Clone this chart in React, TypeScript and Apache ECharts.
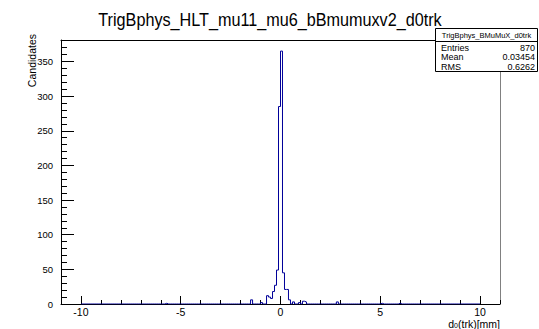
import React, { useEffect, useRef } from "react";
import * as echarts from "echarts";

const TITLE = "TrigBphys_HLT_mu11_mu6_bBmumuxv2_d0trk";
const STATS_NAME = "TrigBphys_BMuMuX_d0trk";
const STATS_LABELS = ["Entries", "Mean", "RMS"];
const STATS_VALUES = ["870", "0.03454", "0.6262"];
const Y_TITLE = "Candidates";

const X_TICKS = [-10, -5, 0, 5, 10];
const Y_TICKS = [0, 50, 100, 150, 200, 250, 300, 350];

// histogram binning: 200 bins of 0.1 from -10 to 10
const BIN_LOW = -10;
const BIN_HIGH = 10;
const N_BINS = 200;

// non-empty bins: lower edge and content
const FILLED_LOW_EDGES = [
  -5.8, -1.5, -1.0, -0.7, -0.6, -0.5, -0.4, -0.3, -0.2, -0.1, 0.0,
  0.1, 0.2, 0.3, 0.4, 0.6, 0.9, 1.1, 1.2, 2.8, 5.0, 5.9,
];
const FILLED_COUNTS = [
  1, 6, 2, 12, 10, 8, 18, 27, 49, 285, 365,
  45, 21, 21, 6, 3, 2, 4, 3, 3, 1, 1,
];

const FONT = "'Liberation Sans', Arial, Helvetica, sans-serif";
const HIST_COLOR = "#000099";

export default function App() {
  const ref = useRef<HTMLDivElement>(null);

  useEffect(() => {
    if (!ref.current) return;
    const chart = echarts.init(ref.current, null, { renderer: "svg" });

    const width = (BIN_HIGH - BIN_LOW) / N_BINS;
    const counts = new Array(N_BINS).fill(0);
    FILLED_LOW_EDGES.forEach((lo, k) => {
      const idx = Math.round((lo - BIN_LOW) / width);
      if (idx >= 0 && idx < N_BINS) counts[idx] = FILLED_COUNTS[k];
    });
    const stepData: number[][] = [];
    for (let i = 0; i < N_BINS; i++) {
      stepData.push([Math.round((BIN_LOW + i * width) * 1000) / 1000, counts[i]]);
    }
    stepData.push([BIN_HIGH, 0]);

    const txt = (
      text: string,
      x: number,
      y: number,
      fontSize: number,
      align: string,
      vAlign: string,
      extra: any = {}
    ) => ({
      type: "text",
      x,
      y,
      ...extra,
      style: {
        text,
        fontSize,
        fontFamily: FONT,
        fill: "#000",
        align,
        verticalAlign: vAlign,
        textAlign: align,
        textVerticalAlign: vAlign,
      },
    });

    const statsGraphics: any[] = [
      {
        type: "rect",
        shape: { x: 435.5, y: 28.5, width: 102, height: 43 },
        style: { fill: "#fff", stroke: "#000", lineWidth: 1 },
        z: 100,
      },
      {
        type: "line",
        shape: { x1: 435.5, y1: 41.5, x2: 537.5, y2: 41.5 },
        style: { stroke: "#000", lineWidth: 1 },
        z: 101,
      },
      txt(STATS_NAME, 486.5, 35, 7.5, "center", "middle", { z: 101 }),
    ];
    STATS_LABELS.forEach((lab, i) => {
      const y = 47.5 + i * 9.5;
      statsGraphics.push(txt(lab, 441, y, 9, "left", "middle", { z: 101 }));
      statsGraphics.push(txt(STATS_VALUES[i], 535, y, 9, "right", "middle", { z: 101 }));
    });

    const hiddenLine = { show: false, onZero: false };
    const option: any = {
      animation: false,
      backgroundColor: "#fff",
      grid: {
        left: 61,
        right: 39,
        top: 40,
        bottom: 25,
        show: false,
        containLabel: false,
        outerBoundsMode: "none",
      },
      xAxis: [
        {
          type: "value",
          min: -11,
          max: 11,
          position: "bottom",
          axisLine: { show: true, onZero: false, lineStyle: { color: "#000", width: 1 } },
          axisTick: {
            show: true,
            inside: true,
            length: 8,
            customValues: X_TICKS,
            lineStyle: { color: "#000", width: 1 },
          },
          axisLabel: {
            show: true,
            customValues: X_TICKS,
            fontSize: 10.5,
            fontFamily: FONT,
            color: "#000",
            margin: 2,
          },
          splitLine: { show: false },
        },
        {
          type: "value",
          min: -11,
          max: 11,
          interval: 1,
          position: "bottom",
          axisLine: hiddenLine,
          axisTick: { show: true, inside: true, length: 4, lineStyle: { color: "#000", width: 1 } },
          axisLabel: { show: false },
          splitLine: { show: false },
        },
        {
          type: "value",
          min: -11,
          max: 11,
          position: "top",
          axisLine: { show: true, onZero: false, lineStyle: { color: "#000", width: 1 } },
          axisTick: { show: false },
          axisLabel: { show: false },
          splitLine: { show: false },
        },
      ],
      yAxis: [
        {
          type: "value",
          min: 0,
          max: 381,
          position: "left",
          axisLine: { show: true, onZero: false, lineStyle: { color: "#000", width: 1 } },
          axisTick: {
            show: true,
            inside: true,
            length: 13,
            customValues: Y_TICKS,
            lineStyle: { color: "#000", width: 1 },
          },
          axisLabel: {
            show: true,
            customValues: Y_TICKS,
            fontSize: 9.5,
            fontFamily: FONT,
            color: "#000",
            margin: 8,
          },
          splitLine: { show: false },
        },
        {
          type: "value",
          min: 0,
          max: 381,
          interval: 10,
          position: "left",
          axisLine: hiddenLine,
          axisTick: { show: true, inside: true, length: 6, lineStyle: { color: "#000", width: 1 } },
          axisLabel: { show: false },
          splitLine: { show: false },
        },
        {
          type: "value",
          min: 0,
          max: 381,
          position: "right",
          axisLine: { show: true, onZero: false, lineStyle: { color: "#808080", width: 1 } },
          axisTick: { show: false },
          axisLabel: { show: false },
          splitLine: { show: false },
        },
      ],
      series: [
        {
          type: "line",
          xAxisIndex: 0,
          yAxisIndex: 0,
          step: "end",
          data: stepData,
          showSymbol: false,
          symbol: "none",
          lineStyle: { color: HIST_COLOR, width: 1 },
          itemStyle: { color: HIST_COLOR },
          clip: true,
          z: 3,
        },
      ],
      graphic: [
        txt(TITLE, 270, 20, 18, "center", "middle", { scaleX: 0.9 }),
        txt(Y_TITLE, 32, 34, 10.5, "right", "middle", { rotation: Math.PI / 2 }),
        {
          type: "text",
          x: 500,
          y: 318,
          style: {
            text: "{a|d}{s|0}{a|(trk)[mm]}",
            fontFamily: FONT,
            fill: "#000",
            align: "right",
            verticalAlign: "top",
            textAlign: "right",
            textVerticalAlign: "top",
            rich: {
              a: { fontSize: 10.5, fontFamily: FONT, lineHeight: 11, verticalAlign: "top" },
              s: { fontSize: 7, fontFamily: FONT, lineHeight: 11, verticalAlign: "bottom" },
            },
          },
        },
        ...statsGraphics,
      ],
    };

    chart.setOption(option);
    return () => {
      chart.dispose();
    };
  }, []);

  return (
    <div
      ref={ref}
      style={{ position: "fixed", left: 0, top: 0, width: 539, height: 329, background: "#fff" }}
    />
  );
}
